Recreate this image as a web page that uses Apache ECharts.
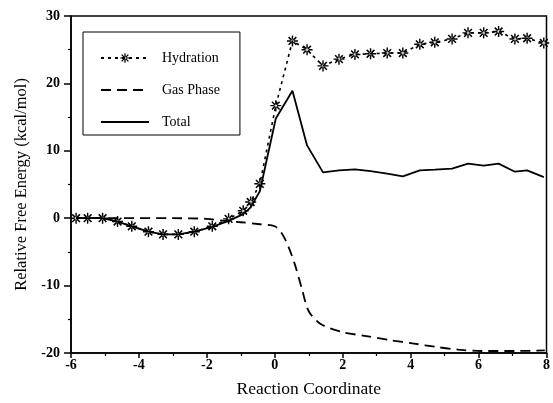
<!DOCTYPE html>
<html>
<head>
<meta charset="utf-8">
<script src="https://cdn.jsdelivr.net/npm/echarts@6/dist/echarts.min.js"></script>
<style>
  html, body { margin: 0; padding: 0; background: #fff; }
  #chart { width: 553px; height: 403px; }
</style>
</head>
<body>
<div id="chart"></div>
<script>
// values
var xTicks = [-6, -4, -2, 0, 2, 4, 6, 8];
var yTicks = [-20, -10, 0, 10, 20, 30];

var hydrationX = [-5.85, -5.51, -5.07, -4.63, -4.21, -3.72, -3.29, -2.84, -2.37, -1.84, -1.36, -0.93, -0.71, -0.44,
  0.03, 0.52, 0.95, 1.42, 1.89, 2.36, 2.82, 3.31, 3.77, 4.27, 4.71, 5.22, 5.69, 6.15, 6.59, 7.07, 7.43, 7.92];
var hydrationY = [0, 0, 0, -0.5, -1.2, -2.0, -2.4, -2.4, -2.0, -1.2, -0.1, 1.1, 2.4, 5.1,
  16.7, 26.3, 25.0, 22.6, 23.6, 24.3, 24.4, 24.5, 24.5, 25.8, 26.1, 26.6, 27.5, 27.5, 27.7, 26.6, 26.7, 26.0];

var totalY = [0, 0, 0, -0.5, -1.2, -2.0, -2.4, -2.4, -2.0, -1.3, -0.4, 0.6, 1.6, 4.0,
  14.8, 18.9, 10.8, 6.8, 7.1, 7.25, 7.0, 6.6, 6.2, 7.1, 7.2, 7.35, 8.1, 7.8, 8.1, 6.9, 7.1, 6.1];

var gasX = [-5.85, -4.5, -3, -2, -1.5, -1, -0.44, 0.0, 0.2, 0.4, 0.6, 0.8, 1.0, 1.35, 2.0, 2.7, 3.4, 4.1, 4.75, 5.4, 6.1, 7.1, 7.95];
var gasY = [0, 0, 0, -0.1, -0.4, -0.6, -0.9, -1.2, -2.2, -4.2, -7.0, -10.5, -13.8, -15.7, -16.9, -17.5, -18.1, -18.6, -19.1, -19.5, -19.7, -19.7, -19.6];

function pairs(xs, ys) {
  return xs.map(function (x, i) { return [x, ys[i]]; });
}

// asterisk marker
var star = 'path://M-1.3 -10L1.3 -10L1.3 10L-1.3 10Z' +
  'M-10 -1.3L10 -1.3L10 1.3L-10 1.3Z' +
  'M6 8L8 6L-6 -8L-8 -6Z' +
  'M8 -6L6 -8L-8 6L-6 8Z';

var serif = 'Liberation Serif';

var chart = echarts.init(document.getElementById('chart'));
chart.setOption({
  animation: false,
  backgroundColor: '#fff',
  grid: {
    left: 71, right: 5, top: 16, bottom: 45,
    show: true, borderColor: '#000', borderWidth: 1.5
  },
  legend: {
    orient: 'vertical',
    left: 83, top: 32,
    padding: [19, 20, 6, 17],
    itemWidth: 48, itemHeight: 12, itemGap: 18,
    borderColor: '#000', borderWidth: 1,
    textStyle: { fontFamily: serif, fontSize: 14, color: '#000', padding: [0, 0, 0, 8] },
    data: [
      'Hydration',
      { name: 'Gas Phase', itemStyle: { opacity: 0 } },
      { name: 'Total', itemStyle: { opacity: 0 } }
    ]
  },
  xAxis: {
    type: 'value',
    min: -6, max: 8, interval: 2,
    name: 'Reaction Coordinate',
    nameLocation: 'middle', nameGap: 27,
    nameTextStyle: { fontFamily: serif, fontSize: 17.5, color: '#000' },
    axisLine: { onZero: false, lineStyle: { color: '#000', width: 1.5 } },
    axisTick: { inside: false, length: 5, lineStyle: { color: '#000', width: 1.5 } },
    minorTick: { show: true, splitNumber: 2, length: 3, lineStyle: { color: '#000', width: 1.2 } },
    splitLine: { show: false },
    axisLabel: {
      fontFamily: serif, fontWeight: 'bold', fontSize: 14, color: '#000', margin: 5,
      formatter: function (v) { return xTicks.indexOf(v) >= 0 ? String(v) : ''; }
    }
  },
  yAxis: {
    type: 'value',
    min: -20, max: 30, interval: 10,
    name: 'Relative Free Energy (kcal/mol)',
    nameLocation: 'middle', nameGap: 36,
    nameTextStyle: { fontFamily: serif, fontSize: 16.5, color: '#000' },
    axisLine: { onZero: false, lineStyle: { color: '#000', width: 1.5 } },
    axisTick: { inside: false, length: 7, lineStyle: { color: '#000', width: 1.5 } },
    minorTick: { show: true, splitNumber: 2, length: 3, lineStyle: { color: '#000', width: 1.2 } },
    splitLine: { show: false },
    axisLabel: {
      fontFamily: serif, fontWeight: 'bold', fontSize: 14, color: '#000', margin: 11,
      formatter: function (v) { return yTicks.indexOf(v) >= 0 ? String(v) : ''; }
    }
  },
  series: [
    {
      name: 'Hydration',
      type: 'line',
      data: pairs(hydrationX, hydrationY),
      symbol: star, symbolSize: 11,
      itemStyle: { color: '#000' },
      lineStyle: { color: '#000', width: 1.6, type: [3, 4] },
      z: 3
    },
    {
      name: 'Gas Phase',
      type: 'line',
      data: pairs(gasX, gasY),
      smooth: 0.3,
      symbol: 'none',
      itemStyle: { color: '#000' },
      lineStyle: { color: '#000', width: 1.8, type: [10, 6] }
    },
    {
      name: 'Total',
      type: 'line',
      data: pairs(hydrationX, totalY),
      symbol: 'none',
      itemStyle: { color: '#000' },
      lineStyle: { color: '#000', width: 1.8 }
    }
  ]
});
</script>
</body>
</html>
